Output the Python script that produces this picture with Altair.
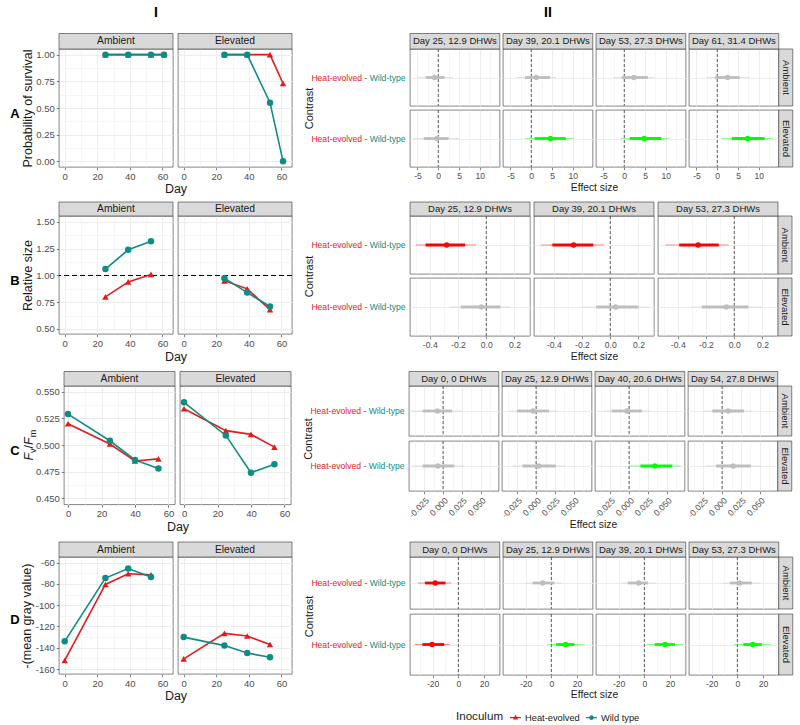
import altair as alt
import pandas as pd

# ---------------------------------------------------------------- styling
FONT = "Liberation Sans"
INK = "#1a1a1a"
TICK_INK = "#4d4d4d"
BORDER = "#333333"
STRIP_FILL = "#d9d9d9"
GRID = "#ebebeb"
RED = "#E41A1C"
TEAL = "#118C82"

GROUPS = ["Heat-evolved", "Wild type"]
CONTRAST = "Heat-evolved - Wild-type"
SIG_DOMAIN = ["ns", "neg", "pos"]
SIG_RANGE = ["#BEBEBE", "#FF0000", "#00FF00"]

# ---------------------------------------------------------------- A: survival
A_days = [25, 39, 53, 61]
A_amb_heat = [1.0, 1.0, 1.0, 1.0]
A_amb_wild = [1.0, 1.0, 1.0, 1.0]
A_elev_heat = [1.0, 1.0, 1.0, 0.73]
A_elev_wild = [1.0, 1.0, 0.55, 0.0]

A_labels = ["Day 25, 12.9 DHWs", "Day 39, 20.1 DHWs", "Day 53, 27.3 DHWs", "Day 61, 31.4 DHWs"]
A_amb_est = [-0.9, 1.2, 2.3, 2.5]
A_amb_lo95 = [-5.0, -3.6, -2.6, -2.5]
A_amb_hi95 = [3.5, 6.0, 7.3, 7.9]
A_amb_lo66 = [-3.0, -1.5, -0.6, -0.5]
A_amb_hi66 = [1.5, 4.5, 5.7, 5.4]
A_amb_sig = ["ns", "ns", "ns", "ns"]
A_elev_est = [-0.3, 4.6, 4.8, 7.3]
A_elev_lo95 = [-6.0, -1.6, -0.9, 1.0]
A_elev_hi95 = [5.0, 10.3, 10.9, 13.4]
A_elev_lo66 = [-3.5, 0.8, 1.3, 3.5]
A_elev_hi66 = [2.5, 8.3, 8.9, 11.4]
A_elev_sig = ["ns", "pos", "pos", "pos"]

# ---------------------------------------------------------------- B: relative size
B_days = [25, 39, 53]
B_amb_heat = [0.80, 0.94, 1.01]
B_amb_wild = [1.06, 1.24, 1.32]
B_elev_heat = [0.95, 0.875, 0.68]
B_elev_wild = [0.975, 0.84, 0.71]
B_ref = [1.0]

B_labels = ["Day 25, 12.9 DHWs", "Day 39, 20.1 DHWs", "Day 53, 27.3 DHWs"]
B_amb_est = [-0.28, -0.26, -0.256]
B_amb_lo95 = [-0.50, -0.49, -0.487]
B_amb_hi95 = [-0.075, -0.047, -0.04]
B_amb_lo66 = [-0.43, -0.41, -0.39]
B_amb_hi66 = [-0.15, -0.12, -0.11]
B_amb_sig = ["neg", "neg", "neg"]
B_elev_est = [-0.035, 0.038, -0.056]
B_elev_lo95 = [-0.26, -0.20, -0.31]
B_elev_hi95 = [0.17, 0.275, 0.195]
B_elev_lo66 = [-0.18, -0.10, -0.23]
B_elev_hi66 = [0.10, 0.20, 0.10]
B_elev_sig = ["ns", "ns", "ns"]

# ---------------------------------------------------------------- C: Fv/Fm
C_days = [0, 25, 40, 54]
C_amb_heat = [0.520, 0.501, 0.485, 0.487]
C_amb_wild = [0.529, 0.504, 0.486, 0.478]
C_elev_heat = [0.534, 0.5135, 0.510, 0.498]
C_elev_wild = [0.540, 0.509, 0.474, 0.482]

C_labels = ["Day 0, 0 DHWs", "Day 25, 12.9 DHWs", "Day 40, 20.6 DHWs", "Day 54, 27.8 DHWs"]
C_amb_est = [-0.0075, -0.004, -0.003, 0.008]
C_amb_lo95 = [-0.043, -0.036, -0.034, -0.024]
C_amb_hi95 = [0.026, 0.028, 0.028, 0.040]
C_amb_lo66 = [-0.027, -0.025, -0.023, -0.013]
C_amb_hi66 = [0.012, 0.017, 0.017, 0.029]
C_amb_sig = ["ns", "ns", "ns", "ns"]
C_elev_est = [-0.007, 0.0035, 0.034, 0.0146]
C_elev_lo95 = [-0.041, -0.031, 0.0, -0.022]
C_elev_hi95 = [0.028, 0.039, 0.068, 0.051]
C_elev_lo66 = [-0.027, -0.018, 0.015, -0.008]
C_elev_hi66 = [0.015, 0.026, 0.057, 0.038]
C_elev_sig = ["ns", "ns", "pos", "ns"]

# ---------------------------------------------------------------- D: -(mean gray value)
D_days = [0, 25, 39, 53]
D_amb_heat = [-152.0, -80.5, -70.5, -71.5]
D_amb_wild = [-134.0, -74.5, -65.5, -73.5]
D_elev_heat = [-150.5, -126.5, -129.0, -137.0]
D_elev_wild = [-130.0, -138.0, -145.0, -149.0]

D_labels = ["Day 0, 0 DHWs", "Day 25, 12.9 DHWs", "Day 39, 20.1 DHWs", "Day 53, 27.3 DHWs"]
D_amb_est = [-18.0, -6.8, -4.4, 1.8]
D_amb_lo95 = [-31.4, -19.9, -18.0, -11.0]
D_amb_hi95 = [-5.5, 7.6, 9.4, 17.8]
D_amb_lo66 = [-26.0, -14.6, -12.8, -5.8]
D_amb_hi66 = [-10.0, 2.4, 2.9, 11.2]
D_amb_sig = ["neg", "ns", "ns", "ns"]
D_elev_est = [-20.4, 11.0, 16.0, 12.0]
D_elev_lo95 = [-34.0, -3.4, 2.1, -2.6]
D_elev_hi95 = [-6.5, 25.9, 30.3, 26.4]
D_elev_lo66 = [-28.0, 3.7, 8.1, 4.7]
D_elev_hi66 = [-11.0, 18.0, 23.8, 19.0]
D_elev_sig = ["neg", "pos", "pos", "pos"]


# ---------------------------------------------------------------- tables
def series_frame(days, amb_heat, amb_wild, elev_heat, elev_wild):
    rows = []
    for trt, heat, wild in (("Ambient", amb_heat, amb_wild), ("Elevated", elev_heat, elev_wild)):
        for grp, vals in (("Heat-evolved", heat), ("Wild type", wild)):
            for d, v in zip(days, vals):
                rows.append({"Treatment": trt, "Inoculum": grp, "Day": d, "value": v})
    return pd.DataFrame(rows)


def effect_frame(labels, amb, elev):
    rows = []
    for trt, (est, lo95, hi95, lo66, hi66, sig) in (("Ambient", amb), ("Elevated", elev)):
        for i, lab in enumerate(labels):
            rows.append({"Treatment": trt, "Day": lab, "contrast": CONTRAST,
                         "est": est[i], "lo95": lo95[i], "hi95": hi95[i],
                         "lo66": lo66[i], "hi66": hi66[i], "sig": sig[i]})
    return pd.DataFrame(rows)


A_series = series_frame(A_days, A_amb_heat, A_amb_wild, A_elev_heat, A_elev_wild)
B_series = series_frame(B_days, B_amb_heat, B_amb_wild, B_elev_heat, B_elev_wild)
C_series = series_frame(C_days, C_amb_heat, C_amb_wild, C_elev_heat, C_elev_wild)
D_series = series_frame(D_days, D_amb_heat, D_amb_wild, D_elev_heat, D_elev_wild)

A_effects = effect_frame(A_labels,
                         (A_amb_est, A_amb_lo95, A_amb_hi95, A_amb_lo66, A_amb_hi66, A_amb_sig),
                         (A_elev_est, A_elev_lo95, A_elev_hi95, A_elev_lo66, A_elev_hi66, A_elev_sig))
B_effects = effect_frame(B_labels,
                         (B_amb_est, B_amb_lo95, B_amb_hi95, B_amb_lo66, B_amb_hi66, B_amb_sig),
                         (B_elev_est, B_elev_lo95, B_elev_hi95, B_elev_lo66, B_elev_hi66, B_elev_sig))
C_effects = effect_frame(C_labels,
                         (C_amb_est, C_amb_lo95, C_amb_hi95, C_amb_lo66, C_amb_hi66, C_amb_sig),
                         (C_elev_est, C_elev_lo95, C_elev_hi95, C_elev_lo66, C_elev_hi66, C_elev_sig))
D_effects = effect_frame(D_labels,
                         (D_amb_est, D_amb_lo95, D_amb_hi95, D_amb_lo66, D_amb_hi66, D_amb_sig),
                         (D_elev_est, D_elev_lo95, D_elev_hi95, D_elev_lo66, D_elev_hi66, D_elev_sig))


# ---------------------------------------------------------------- axis helpers
def is_major(major):
    # true when the tick value is one of the labelled (major) breaks
    return "(" + " || ".join(f"abs(datum.value - ({m})) < 1e-9" for m in major) + ")"


def by_major(major, on, off):
    return {"condition": {"test": is_major(major), "value": on}, "value": off}


def major_label_expr(major):
    return f"{is_major(major)} ? replace(datum.label, '\u2212', '-') : ''"


def panel_view():
    return alt.ViewBackground(stroke=BORDER, strokeWidth=0.6)


def single(col, value):
    return pd.DataFrame({col: [value]})


# ---------------------------------------------------------------- left panels (time series)
def left_panel(df, trt, g, first, heading=None):
    W, H, SH = g["W"], g["H"], g["SH"]
    sub = df[df["Treatment"] == trt]

    xkw = dict(values=sorted(g["xmaj"] + g["xmin"]), grid=True,
               gridWidth=by_major(g["xmaj"], 0.9, 0.45),
               tickOpacity=by_major(g["xmaj"], 1, 0),
               labelExpr=major_label_expr(g["xmaj"]), format="d",
               labelFontSize=9.5, tickSize=2.75, labelPadding=1.5)
    if first:
        xkw.update(title="Day", titleX=W + g["gap"] / 2, titleY=g["day_y"], titleFontSize=12.5,
                   titleAlign="center", titleBaseline="middle")
    else:
        xkw.update(title=None)

    ykw = dict(values=sorted(g["ymaj"] + g["ymin"]), grid=True,
               gridWidth=by_major(g["ymaj"], 0.9, 0.45))
    if first:
        ykw.update(tickOpacity=by_major(g["ymaj"], 1, 0),
                   labelExpr=major_label_expr(g["ymaj"]), format=g["yfmt"],
                   labelFontSize=9.5, tickSize=2.75, labelPadding=2,
                   title=g["ylab"], titleFontSize=12.5, titlePadding=1.5)
    else:
        ykw.update(labels=False, ticks=False, title=None)

    xs = alt.Scale(domain=g["xdom"], nice=False, zero=False)
    ys = alt.Scale(domain=g["ydom"], nice=False, zero=False)

    def X(f):
        return alt.X(f"{f}:Q", scale=xs, axis=alt.Axis(**xkw))

    def Y(f):
        return alt.Y(f"{f}:Q", scale=ys, axis=alt.Axis(**ykw))

    colour = alt.Color("Inoculum:N", scale=alt.Scale(domain=GROUPS, range=[RED, TEAL]), legend=None)
    shape = alt.Shape("Inoculum:N", scale=alt.Scale(domain=GROUPS, range=["triangle-up", "circle"]),
                      legend=None)

    base = alt.Chart(sub)
    layers = []
    if "ref" in g:
        layers.append(alt.Chart(pd.DataFrame({"ref": g["ref"]}))
                      .mark_rule(color="black", strokeWidth=1, strokeDash=[5, 3])
                      .encode(y=Y("ref")))
    layers.append(base.mark_line(strokeWidth=1.6).encode(x=X("Day"), y=Y("value"), color=colour))
    layers.append(base.mark_point(filled=True, size=42, opacity=1)
                  .encode(x=X("Day"), y=Y("value"), color=colour, shape=shape))

    strip_df = single("Treatment", trt)
    layers.append(alt.Chart(strip_df)
                  .mark_rect(fill=STRIP_FILL, stroke=BORDER, strokeWidth=0.6)
                  .encode(x=alt.value(0), x2=alt.value(W), y=alt.value(-SH), y2=alt.value(0)))
    layers.append(alt.Chart(strip_df).mark_text(fontSize=10.3, color=INK)
                  .encode(x=alt.value(W / 2), y=alt.value(-SH / 2), text="Treatment:N"))

    if first and heading:
        layers.append(alt.Chart(single("h", heading))
                      .mark_text(fontSize=14, fontWeight="bold", color="black")
                      .encode(x=alt.value(97), y=alt.value(-36), text="h:N"))

    if first and g.get("fvfm"):
        # F_v / F_m axis title built from italic and subscript pieces
        pieces = [("F", 12.5, "italic", 0.611, 0.0), ("v", 9.0, "normal", 0.5, 3.5),
                  ("/", 12.5, "normal", 0.278, 0.0), ("F", 12.5, "italic", 0.611, 0.0),
                  ("m", 9.0, "normal", 0.833, 3.5)]
        total = sum(size * w for _, size, _, w, _ in pieces)
        pos = H / 2 + total / 2
        for txt, size, style, w, shift in pieces:
            layers.append(alt.Chart(single("t", txt))
                          .mark_text(fontSize=size, fontStyle=style, color=INK, angle=270,
                                     align="left", baseline="middle")
                          .encode(x=alt.value(g["fvfm_x"] + shift), y=alt.value(pos), text="t:N"))
            pos -= size * w

    return alt.layer(*layers).properties(width=W, height=H, view=panel_view())


# ---------------------------------------------------------------- right panels (contrasts)
def right_cell(df, trt, lab, r, c, g, heading=None):
    ncols = len(g["labels"])
    W, H, SH = g["W"], g["H"][r], g["SH"]
    sub = df[(df["Treatment"] == trt) & (df["Day"] == lab)]
    maj, mnr = g["maj"], g["min"]

    xkw = dict(values=sorted(maj + mnr), grid=True, gridWidth=by_major(maj, 0.9, 0.45))
    if r == 1:
        xkw.update(tickOpacity=by_major(maj, 1, 0), labelExpr=major_label_expr(maj),
                   format=g["fmt"], labelFontSize=8.6, tickSize=2.75, labelPadding=2)
        xkw.update(g.get("label_style", {}))
        if c == 0:
            total = ncols * W + (ncols - 1) * g["colgap"]
            xkw.update(title="Effect size", titleX=total / 2, titleY=g["es_y"], titleFontSize=10.3,
                       titleAlign="center", titleBaseline="middle")
        else:
            xkw.update(title=None)
    else:
        xkw.update(labels=False, ticks=False, title=None)

    ykw = dict(labels=False, ticks=False, grid=True, gridWidth=0.9)
    if r == 0 and c == 0:
        ykw.update(title="Contrast", titleX=-100.5,
                   titleY=(g["H"][0] + g["rowgap"] + g["H"][1]) / 2,
                   titleAngle=270, titleAlign="center", titleBaseline="middle", titleFontSize=11)
    else:
        ykw.update(title=None)

    xs = alt.Scale(domain=g["dom"], nice=False, zero=False)

    def X(f):
        return alt.X(f"{f}:Q", scale=xs, axis=alt.Axis(**xkw))

    Y = alt.Y("contrast:N", scale=alt.Scale(type="point", padding=0.5), axis=alt.Axis(**ykw))
    S = alt.Color("sig:N", scale=alt.Scale(domain=SIG_DOMAIN, range=SIG_RANGE), legend=None)

    base = alt.Chart(sub)
    layers = [
        base.transform_calculate(zero="0")
        .mark_rule(color=BORDER, strokeWidth=0.8, strokeDash=[3, 2]).encode(x=X("zero")),
        base.mark_rule(strokeWidth=1.2, opacity=0.45).encode(x=X("lo95"), x2="hi95:Q", y=Y, color=S),
        base.mark_rule(strokeWidth=2.8).encode(x=X("lo66"), x2="hi66:Q", y=Y, color=S),
        base.mark_circle(size=28, opacity=1).encode(x=X("est"), y=Y, color=S),
    ]

    if r == 0:
        layers.append(base.mark_rect(fill=STRIP_FILL, stroke=BORDER, strokeWidth=0.6)
                      .encode(x=alt.value(0), x2=alt.value(W), y=alt.value(-SH), y2=alt.value(0)))
        layers.append(base.mark_text(fontSize=9.5, color=INK)
                      .encode(x=alt.value(W / 2), y=alt.value(-SH / 2), text="Day:N"))
    if c == ncols - 1:
        layers.append(base.mark_rect(fill=STRIP_FILL, stroke=BORDER, strokeWidth=0.6)
                      .encode(x=alt.value(W), x2=alt.value(W + 14), y=alt.value(0), y2=alt.value(H)))
        layers.append(base.mark_text(fontSize=9.5, color=INK, angle=90)
                      .encode(x=alt.value(W + 7), y=alt.value(H / 2), text="Treatment:N"))
    if c == 0:
        # two-coloured contrast label: red group, grey minus sign, teal group
        first_grp, second_grp = CONTRAST.split(" - ")
        fs = 8.6
        w_second, w_space, w_minus = 4.167 * fs, 0.278 * fs, 0.333 * fs
        x_end = -4.5
        for txt, colr, xe in ((second_grp, TEAL, x_end),
                              ("-", TICK_INK, x_end - w_second - w_space),
                              (first_grp, RED, x_end - w_second - 2 * w_space - w_minus)):
            layers.append(base.mark_text(fontSize=fs, color=colr, align="right", text=txt)
                          .encode(x=alt.value(xe), y=Y))
    if heading and r == 0 and c == 0:
        layers.append(base.mark_text(fontSize=14, fontWeight="bold", color="black", text=heading)
                      .encode(x=alt.value(138), y=alt.value(-36)))

    return alt.layer(*layers).properties(width=W, height=H, view=panel_view())


def indep(ch):
    return ch.resolve_scale(color="independent", shape="independent")


def left_block(df, g, heading=None):
    amb = left_panel(df, "Ambient", g, True, heading)
    elev = left_panel(df, "Elevated", g, False)
    return indep(alt.hconcat(amb, elev, spacing=g["gap"], bounds="flush"))


def right_block(df, g, heading=None):
    cells = []
    for r, trt in enumerate(["Ambient", "Elevated"]):
        for c, lab in enumerate(g["labels"]):
            cells.append(right_cell(df, trt, lab, r, c, g, heading))
    return indep(alt.concat(*cells, columns=len(g["labels"]),
                            spacing={"row": g["rowgap"], "column": g["colgap"]}, bounds="flush"))


def letter(lab, y, h):
    return (alt.Chart(single("panel", lab))
            .mark_text(fontSize=13, fontWeight="bold", color="black")
            .encode(x=alt.value(7), y=alt.value(y), text="panel:N")
            .properties(width=12, height=h, view=alt.ViewBackground(strokeOpacity=0)))


def panel_row(lab, ly, lh, df, gl, eff, gr, heading_l=None, heading_r=None):
    inner = indep(alt.hconcat(letter(lab, ly, lh), left_block(df, gl, heading_l), spacing=0))
    return indep(alt.hconcat(inner, right_block(eff, gr, heading_r), spacing=10))


X_MAJ, X_MIN = [0, 20, 40, 60], [10, 30, 50]

GL_A = dict(W=114, gap=5, H=118, SH=15.5, xdom=[-3.5, 66.5], ydom=[-0.053, 1.053],
            xmaj=X_MAJ, xmin=X_MIN, ymaj=[0.0, 0.25, 0.5, 0.75, 1.0],
            ymin=[0.125, 0.375, 0.625, 0.875], yfmt=".2f", day_y=21.5,
            ylab="Probability of survival")
GL_B = dict(W=114, gap=5, H=118, SH=14, xdom=[-3.5, 66.5], ydom=[0.453, 1.556],
            xmaj=X_MAJ, xmin=X_MIN, ymaj=[0.5, 0.75, 1.0, 1.25, 1.5],
            ymin=[0.625, 0.875, 1.125, 1.375], yfmt=".2f", day_y=22,
            ylab="Relative size", ref=B_ref)
GL_C = dict(W=111, gap=5, H=118.5, SH=14.5, xdom=[-2.4, 63.9], ydom=[0.4443, 0.5553],
            xmaj=X_MAJ, xmin=X_MIN, ymaj=[0.45, 0.475, 0.5, 0.525, 0.55],
            ymin=[0.4625, 0.4875, 0.5125, 0.5375], yfmt=".3f", day_y=21.5,
            ylab=" ", fvfm=True, fvfm_x=-35)
GL_D = dict(W=114, gap=5, H=117, SH=15, xdom=[-3.5, 66.5], ydom=[-164.7, -54.7],
            xmaj=X_MAJ, xmin=X_MIN, ymaj=[-160, -140, -120, -100, -80, -60],
            ymin=[-150, -130, -110, -90, -70], yfmt="d", day_y=21,
            ylab="-(mean gray value)")

GR_A = dict(labels=A_labels, W=89.75, colgap=3, H=[57, 57], rowgap=4, SH=15.5,
            dom=[-6.8, 14.8], maj=[-5, 0, 5, 10], min=[-2.5, 2.5, 7.5, 12.5], fmt="d", es_y=20.5)
GR_B = dict(labels=B_labels, W=120, colgap=4, H=[58, 58], rowgap=4, SH=14,
            dom=[-0.54, 0.31], maj=[-0.4, -0.2, 0.0, 0.2], min=[-0.5, -0.3, -0.1, 0.1, 0.3],
            fmt=".1f", es_y=20)
GR_C = dict(labels=C_labels, W=89.75, colgap=3, H=[50, 50], rowgap=5, SH=14.5,
            dom=[-0.045, 0.0735], maj=[-0.025, 0.0, 0.025, 0.05],
            min=[-0.0375, -0.0125, 0.0125, 0.0375, 0.0625], fmt=".3f", es_y=33.5,
            label_style=dict(labelAngle=315, labelAlign="right", labelBaseline="top"))
GR_D = dict(labels=D_labels, W=89.75, colgap=3, H=[52, 61], rowgap=5, SH=15,
            dom=[-37.6, 32.2], maj=[-20, 0, 20], min=[-30, -10, 10, 30], fmt="d", es_y=19.5)

# letter position / row height are measured from each row's plot top
row_A = panel_row("A", 65, 152, A_series, GL_A, A_effects, GR_A, "I", "II")
row_B = panel_row("B", 65, 154, B_series, GL_B, B_effects, GR_B)
row_C = panel_row("C", 64.5, 154.5, C_series, GL_C, C_effects, GR_C)
row_D = panel_row("D", 63, 150, D_series, GL_D, D_effects, GR_D)

# ---------------------------------------------------------------- legend
LINE_TRI = "M-1,-0.11L1,-0.11L1,0.11L-1,0.11Z M0,-0.5L0.48,0.33L-0.48,0.33Z"
LINE_DOT = ("M-1,-0.11L1,-0.11L1,0.11L-1,0.11Z "
            "M0.42,0A0.42,0.42,0,1,1,-0.42,0A0.42,0.42,0,1,1,0.42,0Z")
legend_spec = alt.Legend(orient="none", legendX=448, legendY=3, direction="horizontal",
                         title="Inoculum", titleOrient="left", titleFontSize=11.6,
                         titleFontWeight="normal", titleColor=INK, titlePadding=6,
                         labelFontSize=9.3, labelColor=INK, symbolSize=121, symbolStrokeWidth=0,
                         symbolOpacity=1, columnPadding=6, labelOffset=4)
legend_chart = (alt.Chart(pd.DataFrame({"Inoculum": GROUPS}))
                .mark_point(filled=True, opacity=0)
                .encode(x=alt.value(0), y=alt.value(0),
                        color=alt.Color("Inoculum:N", scale=alt.Scale(domain=GROUPS, range=[RED, TEAL]),
                                        legend=legend_spec),
                        shape=alt.Shape("Inoculum:N", scale=alt.Scale(domain=GROUPS, range=[LINE_TRI, LINE_DOT]),
                                        legend=legend_spec))
                .properties(width=10, height=12, view=alt.ViewBackground(strokeOpacity=0)))

chart = (indep(alt.vconcat(row_A, row_B, row_C, row_D, legend_chart, spacing=0))
         .configure(font=FONT)
         .configure_axis(labelFont=FONT, titleFont=FONT, labelColor=TICK_INK, titleColor=INK,
                         titleFontWeight="normal", tickColor=BORDER, tickWidth=0.6, domain=False,
                         gridColor=GRID, labelFlush=False, labelOverlap=False)
         .configure_text(font=FONT)
         .configure_view(stroke=BORDER, strokeWidth=0.6))

chart.save("out.html", embed_options={"renderer": "svg", "actions": False})
